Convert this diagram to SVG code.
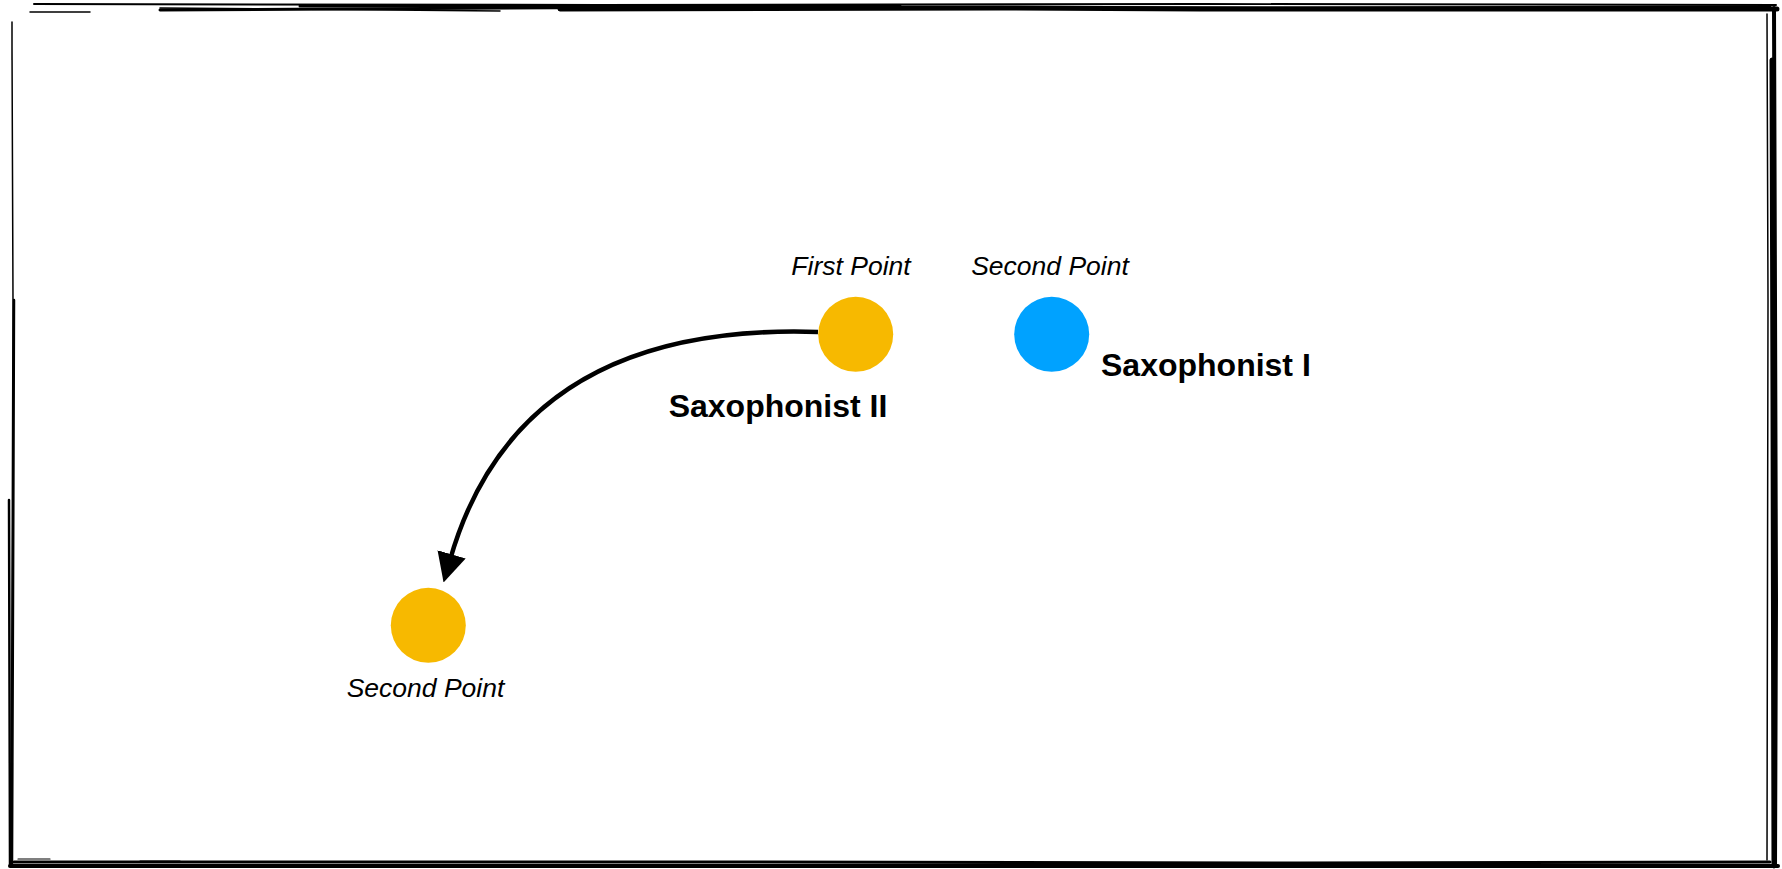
<svg xmlns="http://www.w3.org/2000/svg" width="1782" height="869" viewBox="0 0 1782 869">
<defs>
<style>
.lbl{font-family:"Liberation Sans",Arial,sans-serif;font-style:italic;font-size:26.5px;fill:#000}
.name{font-family:"Liberation Sans",Arial,sans-serif;font-weight:bold;font-size:32px;fill:#000}
.frame{fill:none;stroke:#000;stroke-linecap:round}
.conn{fill:none;stroke:#000;stroke-width:4.5}
</style>
<marker id="arr" viewBox="0 0 10 10" refX="2" refY="5" markerWidth="6.5" markerHeight="6.5" orient="auto" markerUnits="strokeWidth">
<path d="M0,0 L10,5 L0,10 z" fill="#000"/>
</marker>
</defs>
<rect width="1782" height="869" fill="#fff"/>
<g id="frame">
<path class="frame" stroke-width="2" d="M34,4 L600,5 L1200,4 L1776,5"/>
<path class="frame" stroke-width="3" d="M160,10 L700,7 L1300,8 L1770,7"/>
<path class="frame" stroke-width="5" d="M560,9 L1000,8 L1200,9 L1777,9"/>
<path class="frame" stroke-width="3" d="M300,6 L900,6"/>
<path class="frame" stroke-width="1.5" d="M30,12 L90,12 M160,8 L500,11"/>
<path class="frame" stroke-width="1.5" d="M12,22 L12,60 M12,45 L13,300 L12,600 L11,860"/>
<path class="frame" stroke-width="2.5" d="M14,300 L13,600 L12,866"/>
<path class="frame" stroke-width="2.5" d="M9,500 L10,866"/>
<path class="frame" stroke-width="4" d="M1774,8 L1775,300 L1776,600 L1775,866"/>
<path class="frame" stroke-width="5" d="M1772,60 L1773,400 L1774,866"/>
<path class="frame" stroke-width="1.5" d="M1767,14 L1768,300 L1767,860"/>
<path class="frame" stroke-width="4" d="M10,866 L600,866 L1200,866 L1778,866"/>
<path class="frame" stroke-width="3" d="M14,862 L700,862 L1300,863 L1770,862"/>
<path class="frame" stroke-width="1.2" d="M18,859 L50,859 M140,861 L180,861"/>
</g>
<g id="connectors">
<path class="conn" d="M818,332 C640,326 500,385 450,560" marker-end="url(#arr)"/>
</g>
<g id="sax2-first">
<circle cx="855.7" cy="334.3" r="37.5" fill="#F7B900"/>
<text class="lbl" x="851" y="275" text-anchor="middle">First Point</text>
<text class="name" x="778" y="417" text-anchor="middle">Saxophonist II</text>
</g>
<g id="sax1-second">
<circle cx="1051.7" cy="334.3" r="37.5" fill="#00A2FF"/>
<text class="lbl" x="1050" y="275" text-anchor="middle">Second Point</text>
<text class="name" x="1101" y="376">Saxophonist I</text>
</g>
<g id="sax2-second">
<circle cx="428.3" cy="625.3" r="37.5" fill="#F7B900"/>
<text class="lbl" x="425.5" y="697" text-anchor="middle">Second Point</text>
</g>
</svg>
